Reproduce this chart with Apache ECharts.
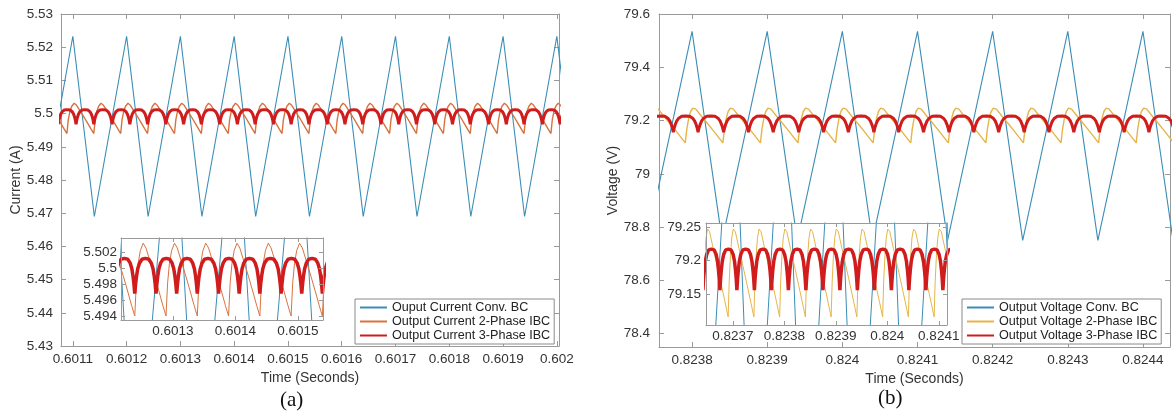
<!DOCTYPE html>
<html>
<head>
<meta charset="utf-8">
<script src="https://cdn.jsdelivr.net/npm/echarts@6/dist/echarts.min.js"></script>
<style>
  html, body { margin: 0; padding: 0; background: #fff; }
  #chart { width: 1172px; height: 416px; }
</style>
</head>
<body>
<div id="chart"></div>
<script>
// ---- panel (a): output current ----
const namesA = ['Ouput Current Conv. BC', 'Output Current 2-Phase IBC', 'Output Current 3-Phase IBC']
// conventional boost: triangle vertices (trough / peak)
const blueTimesA = [0.60104, 0.6011, 0.60114, 0.6012, 0.60124, 0.6013, 0.60134, 0.6014, 0.60144, 0.6015, 0.60154,
  0.6016, 0.60164, 0.6017, 0.60174, 0.6018, 0.60184, 0.6019, 0.60194, 0.602, 0.60204]
const blueValsA = [5.469, 5.5233, 5.469, 5.5233, 5.469, 5.5233, 5.469, 5.5233, 5.469, 5.5233, 5.469,
  5.5233, 5.469, 5.5233, 5.469, 5.5233, 5.469, 5.5233, 5.469, 5.5233, 5.469]
// 2-phase: start (trough) of every ripple cycle, and one cycle's shape
const orangeStartsA = [0.601039, 0.601089, 0.601139, 0.601189, 0.601239, 0.601289, 0.601339, 0.601389, 0.601439,
  0.601489, 0.601539, 0.601589, 0.601639, 0.601689, 0.601739, 0.601789, 0.601839, 0.601889, 0.601939, 0.601989, 0.602039]
const orangeFracs = [0, 0.05, 0.11, 0.18, 0.27, 0.36, 0.5, 0.64, 0.78, 0.9]
const orangeValsA = [5.494, 5.4981, 5.5006, 5.5022, 5.5031, 5.5025, 5.5007, 5.4989, 5.497, 5.4953]
// 3-phase
const redStartsA = [0.601073, 0.601106, 0.601139, 0.601173, 0.601206, 0.601239, 0.601273, 0.601306, 0.601339, 0.601373,
  0.601406, 0.601439, 0.601473, 0.601506, 0.601539, 0.601573, 0.601606, 0.601639, 0.601673, 0.601706, 0.601739,
  0.601773, 0.601806, 0.601839, 0.601873, 0.601906, 0.601939, 0.601973, 0.602006]
const redFracs = [0, 0.04, 0.08, 0.14, 0.22, 0.34, 0.5, 0.66, 0.78, 0.86, 0.92, 0.96]
const redValsA = [5.4968, 5.498, 5.4989, 5.4999, 5.5006, 5.5011, 5.5012, 5.5011, 5.5006, 5.4999, 5.4989, 5.498]
const xTicksA = [0.6011, 0.6012, 0.6013, 0.6014, 0.6015, 0.6016, 0.6017, 0.6018, 0.6019, 0.602]
const yTicksA = [5.43, 5.44, 5.45, 5.46, 5.47, 5.48, 5.49, 5.5, 5.51, 5.52, 5.53]
const xTicksAIn = [0.6013, 0.6014, 0.6015]
const yTicksAIn = [5.494, 5.496, 5.498, 5.5, 5.502]

// ---- panel (b): output voltage ----
const namesB = ['Output Voltage Conv. BC', 'Output Voltage 2-Phase IBC', 'Output Voltage 3-Phase IBC']
const blueTimesB = [0.82364, 0.8237, 0.82374, 0.8238, 0.82384, 0.8239, 0.82394, 0.824, 0.82404, 0.8241, 0.82414,
  0.8242, 0.82424, 0.8243, 0.82434, 0.8244, 0.82444, 0.8245]
const blueValsB = [78.75, 79.535, 78.75, 79.535, 78.75, 79.535, 78.75, 79.535, 78.75, 79.535, 78.75,
  79.535, 78.75, 79.535, 78.75, 79.535, 78.75, 79.535]
const yellowStartsB = [0.823641, 0.823691, 0.823741, 0.823791, 0.823841, 0.823891, 0.823941, 0.823991, 0.824041,
  0.824091, 0.824141, 0.824191, 0.824241, 0.824291, 0.824341, 0.824391, 0.824441]
const yellowFracs = [0, 0.04, 0.09, 0.14, 0.2, 0.28, 0.42, 0.58, 0.74, 0.88]
const yellowValsB = [79.116, 79.168, 79.208, 79.234, 79.247, 79.243, 79.218, 79.191, 79.163, 79.138]
const redStartsB = [0.823642, 0.823675, 0.823708, 0.823742, 0.823775, 0.823808, 0.823842, 0.823875, 0.823908, 0.823942,
  0.823975, 0.824008, 0.824042, 0.824075, 0.824108, 0.824142, 0.824175, 0.824208, 0.824242, 0.824275, 0.824308,
  0.824342, 0.824375, 0.824408, 0.824442]
const redValsB = [79.156, 79.173, 79.185, 79.199, 79.209, 79.216, 79.217, 79.216, 79.209, 79.199, 79.185, 79.173]
const xTicksB = [0.8238, 0.8239, 0.824, 0.8241, 0.8242, 0.8243, 0.8244]
const yTicksB = [78.4, 78.6, 78.8, 79, 79.2, 79.4, 79.6]
const xTicksBIn = [0.8237, 0.8238, 0.8239, 0.824, 0.8241]
const yTicksBIn = [79.15, 79.2, 79.25]

const FONT = '"Liberation Sans", Arial, Helvetica, sans-serif'
const AXIS = '#9a9a9a'
const TEXT = '#333'
const BLUE = '#3a8db5'
const ORANGE = '#d9733e'
const YELLOW = '#e6b54a'
const RED = '#d01c1c'

function zip(xs, ys) {
  return xs.map((x, i) => [x, ys[i]])
}
// lay one read-off cycle shape into each cycle between consecutive starts
function cycles(starts, fracs, vals) {
  const pts = []
  for (let i = 0; i < starts.length; i++) {
    const span = i < starts.length - 1 ? starts[i + 1] - starts[i] : starts[i] - starts[i - 1]
    for (let j = 0; j < fracs.length; j++) {
      pts.push([starts[i] + fracs[j] * span, vals[j]])
    }
  }
  return pts
}
function fmt(v) {
  return String(+v.toFixed(4))
}

const xAxes = []
const yAxes = []
// four axes per grid (box with inward ticks on every side)
function boxAxes(grid, xr, yr, xt, yt, o) {
  const z = o.z || 0
  const tick = { inside: true, length: o.tick || 5, lineStyle: { color: AXIS } }
  const line = { show: true, onZero: false, lineStyle: { color: AXIS, width: 1 } }
  const lab = { color: TEXT, fontFamily: FONT, fontSize: o.font || 13.5, formatter: fmt }
  const xi = xAxes.length
  const yi = yAxes.length
  xAxes.push({
    type: 'value', gridIndex: grid, position: 'bottom', min: xr[0], max: xr[1], z: z,
    axisLine: line, axisTick: Object.assign({ customValues: xt }, tick), splitLine: { show: false },
    axisLabel: Object.assign({ customValues: xt, margin: o.xMargin }, lab),
    name: o.xName || '', nameLocation: 'middle', nameGap: o.xGap || 0,
    nameTextStyle: { color: TEXT, fontFamily: FONT, fontSize: 14 },
  })
  xAxes.push({
    type: 'value', gridIndex: grid, position: 'top', min: xr[0], max: xr[1], z: z,
    axisLine: line, axisTick: Object.assign({ customValues: xt }, tick), splitLine: { show: false },
    axisLabel: { show: false },
  })
  yAxes.push({
    type: 'value', gridIndex: grid, position: 'left', min: yr[0], max: yr[1], z: z,
    axisLine: line, axisTick: Object.assign({ customValues: yt }, tick), splitLine: { show: false },
    axisLabel: Object.assign({ customValues: yt, margin: o.yMargin }, lab),
    name: o.yName || '', nameLocation: 'middle', nameGap: o.yGap || 0,
    nameTextStyle: { color: TEXT, fontFamily: FONT, fontSize: 14 },
  })
  yAxes.push({
    type: 'value', gridIndex: grid, position: 'right', min: yr[0], max: yr[1], z: z,
    axisLine: line, axisTick: Object.assign({ customValues: yt }, tick), splitLine: { show: false },
    axisLabel: { show: false },
  })
  return { x: xi, y: yi }
}

const axA = boxAxes(0, [0.601078, 0.602004], [5.43, 5.53], xTicksA, yTicksA,
  { xMargin: 6, yMargin: 8, xName: 'Time (Seconds)', xGap: 17, yName: 'Current (A)', yGap: 36 })
const axAIn = boxAxes(1, [0.601217, 0.60154], [5.4935, 5.50375], xTicksAIn, yTicksAIn,
  { xMargin: 4, yMargin: 4, z: 12, tick: 4 })
const axB = boxAxes(2, [0.823756, 0.824436], [78.35, 79.6], xTicksB, yTicksB,
  { xMargin: 6, yMargin: 9, xName: 'Time (Seconds)', xGap: 17, yName: 'Voltage (V)', yGap: 37 })
const axBIn = boxAxes(3, [0.823648, 0.824116], [79.104, 79.256], xTicksBIn, yTicksBIn,
  { xMargin: 4, yMargin: 5, z: 12, tick: 4 })

function line(name, data, ax, color, width, z) {
  return {
    name: name, type: 'line', data: data, xAxisIndex: ax.x, yAxisIndex: ax.y,
    symbol: 'none', clip: true, z: z || 2, animation: false,
    lineStyle: { color: color, width: width }, itemStyle: { color: color },
  }
}

const dBlueA = zip(blueTimesA, blueValsA)
const dOrangeA = cycles(orangeStartsA, orangeFracs, orangeValsA)
const dRedA = cycles(redStartsA, redFracs, redValsA)
const dBlueB = zip(blueTimesB, blueValsB)
const dYellowB = cycles(yellowStartsB, yellowFracs, yellowValsB)
const dRedB = cycles(redStartsB, redFracs, redValsB)

const legendBase = {
  orient: 'vertical', itemWidth: 27, itemHeight: 10, itemGap: 1, padding: [2, 4, 2, 4],
  borderColor: '#8a8a8a', borderWidth: 1, backgroundColor: '#fff', z: 6,
  itemStyle: { opacity: 0 },
  textStyle: { color: '#222', fontFamily: FONT, fontSize: 12.6 },
}

const chart = echarts.init(document.getElementById('chart'))
chart.setOption({
  animation: false,
  backgroundColor: '#fff',
  grid: [
    { left: 61, top: 14, width: 498, height: 332 },
    { left: 121, top: 238, width: 202, height: 82, show: true, backgroundColor: '#fff', borderWidth: 0, z: 10 },
    { left: 659, top: 14, width: 511, height: 333 },
    { left: 706, top: 223, width: 241, height: 102, show: true, backgroundColor: '#fff', borderWidth: 0, z: 10 },
  ],
  xAxis: xAxes,
  yAxis: yAxes,
  legend: [
    Object.assign({ left: 355, top: 299, data: namesA }, legendBase),
    Object.assign({ left: 962, top: 299, data: namesB }, legendBase),
  ],
  graphic: [
    { type: 'text', left: 280, top: 390, style: { text: '(a)', fill: '#111', font: '21px "Liberation Serif", "Times New Roman", serif' } },
    { type: 'text', left: 878, top: 388, style: { text: '(b)', fill: '#111', font: '21px "Liberation Serif", "Times New Roman", serif' } },
  ],
  series: [
    line(namesA[0], dBlueA, axA, BLUE, 1.1),
    line(namesA[1], dOrangeA, axA, ORANGE, 1.4),
    line(namesA[2], dRedA, axA, RED, 3),
    line(namesA[0], dBlueA, axAIn, BLUE, 1, 11),
    line(namesA[1], dOrangeA, axAIn, ORANGE, 1, 11),
    line(namesA[2], dRedA, axAIn, RED, 3.5, 11),
    line(namesB[0], dBlueB, axB, BLUE, 1.1),
    line(namesB[1], dYellowB, axB, YELLOW, 1.4),
    line(namesB[2], dRedB, axB, RED, 3),
    line(namesB[0], dBlueB, axBIn, BLUE, 1, 11),
    line(namesB[1], dYellowB, axBIn, YELLOW, 1, 11),
    line(namesB[2], dRedB, axBIn, RED, 3.5, 11),
  ],
})
</script>
</body>
</html>
